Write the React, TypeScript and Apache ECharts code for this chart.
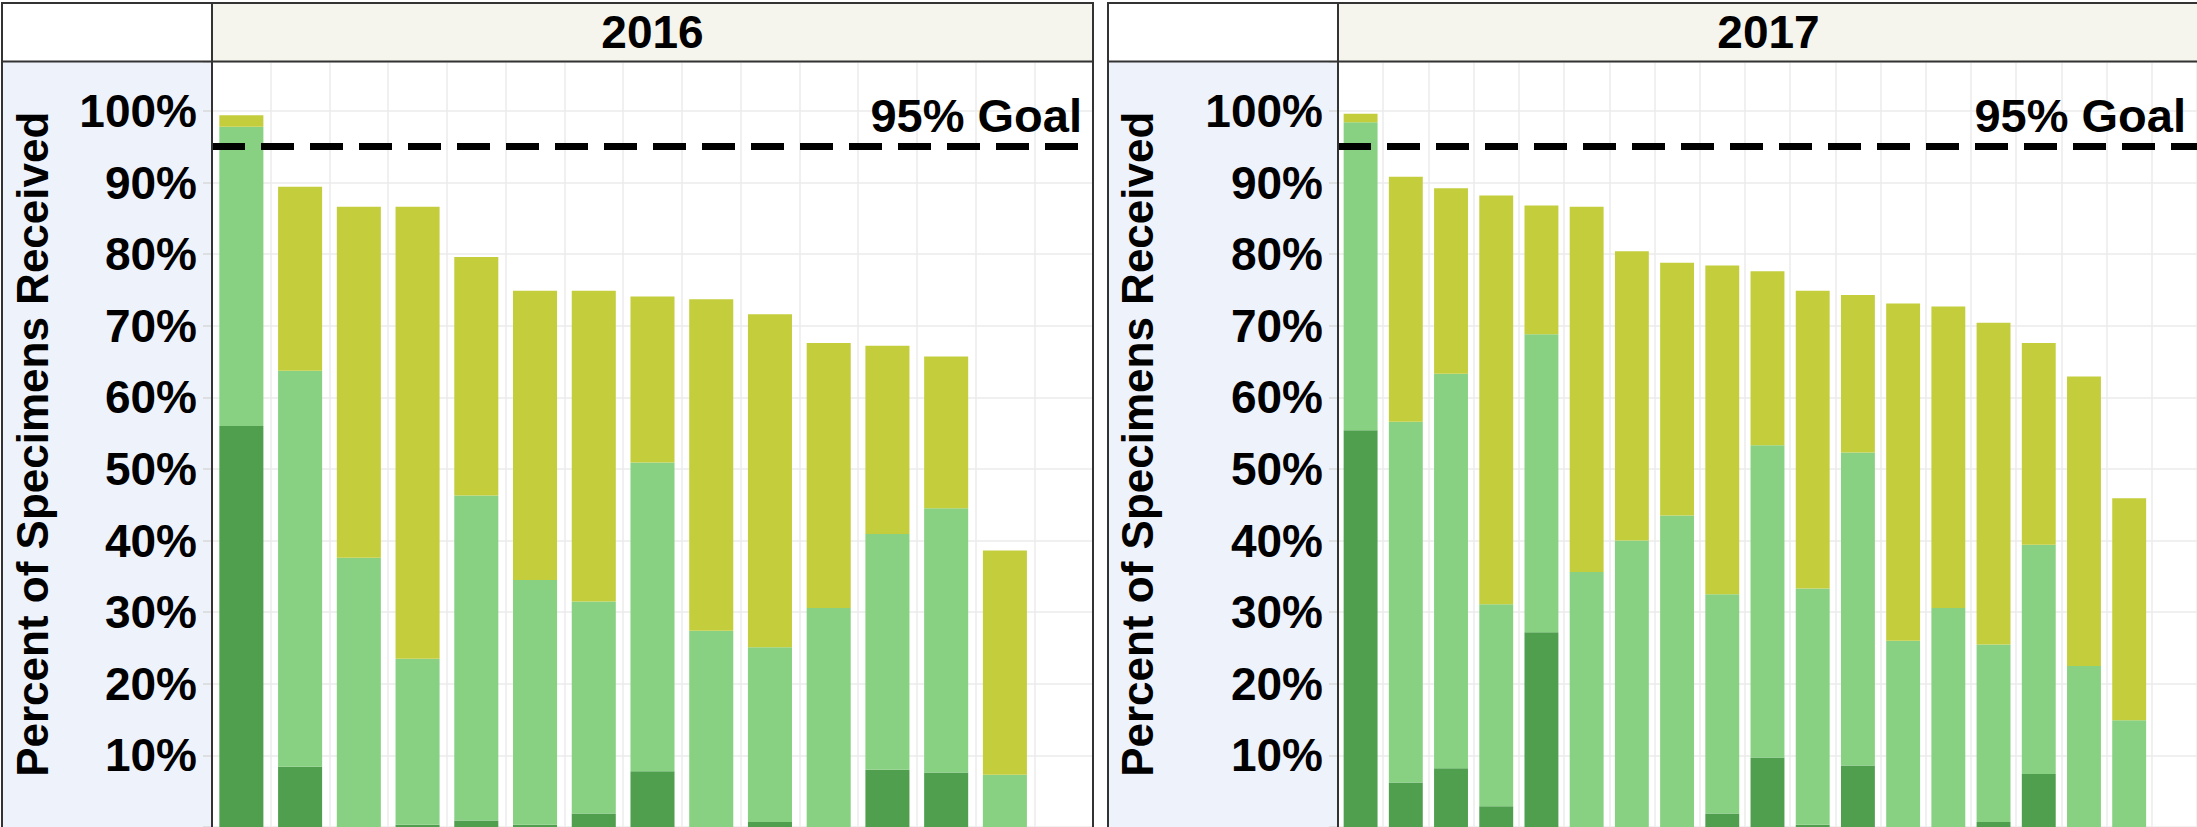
import React, { useEffect, useRef } from "react";
import * as echarts from "echarts";

const W = 2197;
const H = 827;
const FONT = "'Liberation Sans', Arial, Helvetica, sans-serif";

// ---- data (percent of specimens received, stacked segments) ----
const panels2016 = "2016";
const panels2017 = "2017";

const cats2016 = ["Site 1", "Site 2", "Site 3", "Site 4", "Site 5", "Site 6", "Site 7", "Site 8", "Site 9", "Site 10", "Site 11", "Site 12", "Site 13", "Site 14", "Site 15"];
const early2016 = [56.0, 8.4, 0, 0.3, 0.9, 0.3, 1.9, 7.8, 0, 0.7, 0, 8.0, 7.6, 0, null];
const onTime2016 = [41.8, 55.3, 37.6, 23.2, 45.4, 34.2, 29.6, 43.1, 27.4, 24.4, 30.6, 32.9, 36.9, 7.3, null];
const late2016 = [1.6, 25.7, 49.0, 63.1, 33.3, 40.4, 43.4, 23.2, 46.3, 46.5, 37.0, 26.3, 21.2, 31.3, null];

const cats2017 = ["Site 1", "Site 2", "Site 3", "Site 4", "Site 5", "Site 6", "Site 7", "Site 8", "Site 9", "Site 10", "Site 11", "Site 12", "Site 13", "Site 14", "Site 15", "Site 16", "Site 17", "Site 18", "Site 19"];
const early2017 = [55.4, 6.2, 8.2, 2.9, 27.2, 0, 0, 0, 1.9, 9.7, 0.3, 8.6, 0, 0, 0.7, 7.4, 0, 0, null];
const onTime2017 = [43.0, 50.4, 55.1, 28.2, 41.6, 35.6, 40.0, 43.5, 30.6, 43.6, 33.0, 43.7, 26.0, 30.6, 24.8, 32.0, 22.5, 14.9, null];
const late2017 = [1.2, 34.2, 25.9, 57.1, 18.0, 51.0, 40.4, 35.3, 45.9, 24.3, 41.6, 22.0, 47.1, 42.1, 44.9, 28.2, 40.4, 31.0, null];

const goalValue = 95;
const goalLabel = "95% Goal";
const yTitle = "Percent of Specimens Received";
const yMax = 106.9;

const COLORS = { early: "#4f9f4f", onTime: "#88d182", late: "#c4ce3c" };

// ---- layout ----
const TOP = 3;
const STRIP_BOTTOM = 61.5;
const PANELS = [
  { title: panels2016, left: 2, axis: 212, right: 1093, nameGap: 158 },
  { title: panels2017, left: 1108, axis: 1338, right: 2199, nameGap: 179 },
];

export default function App() {
  const ref = useRef<HTMLDivElement>(null);

  useEffect(() => {
    document.body.style.margin = "0";
    if (!ref.current) return;
    const chart = echarts.init(ref.current, undefined, { renderer: "svg" });

    const datasets = [
      { cats: cats2016, early: early2016, onTime: onTime2016, late: late2016 },
      { cats: cats2017, early: early2017, onTime: onTime2017, late: late2017 },
    ];

    const grid = PANELS.map((p) => ({
      left: p.axis,
      top: STRIP_BOTTOM,
      width: p.right - p.axis,
      height: 767,
      containLabel: false,
    }));

    const xAxis = datasets.map((d, i) => ({
      type: "category",
      gridIndex: i,
      data: d.cats,
      boundaryGap: true,
      axisLine: { show: false },
      axisTick: { show: false },
      axisLabel: { show: false },
      splitLine: { show: true, interval: 0, lineStyle: { color: "#ebebeb", width: 1.5 } },
    }));

    const yAxis = PANELS.map((p, i) => ({
      type: "value",
      gridIndex: i,
      min: 0,
      max: yMax,
      interval: 10,
      axisLine: { show: false },
      axisTick: { show: true, length: 9, lineStyle: { color: "#d9d9d9", width: 1.5 } },
      axisLabel: {
        formatter: (v: number) => (v > 0 && Math.abs(v % 10) < 1e-6 ? `${Math.round(v)}%` : ""),
        fontSize: 46,
        fontWeight: "bold",
        color: "#000",
        margin: 15,
        fontFamily: FONT,
      },
      splitLine: { show: true, lineStyle: { color: "#ebebeb", width: 1.5 } },
      name: yTitle,
      nameLocation: "middle",
      nameRotate: 90,
      nameGap: p.nameGap,
      nameTextStyle: { fontSize: 44, fontWeight: "bold", color: "#000", fontFamily: FONT },
    }));

    const series: any[] = [];
    datasets.forEach((d, i) => {
      const common = { type: "bar", xAxisIndex: i, yAxisIndex: i, stack: "s" + i, barWidth: "75%" };
      series.push({ ...common, name: "Early", data: d.early, itemStyle: { color: COLORS.early } });
      series.push({ ...common, name: "On time", data: d.onTime, itemStyle: { color: COLORS.onTime } });
      series.push({
        ...common,
        name: "Late",
        data: d.late,
        itemStyle: { color: COLORS.late },
        markLine: {
          silent: true,
          symbol: ["none", "none"],
          data: [{ yAxis: goalValue }],
          lineStyle: { color: "#000", width: 7, type: [33, 16] },
          label: {
            show: true,
            position: "insideEndTop",
            formatter: goalLabel,
            fontSize: 47,
            fontWeight: "bold",
            color: "#000",
            fontFamily: FONT,
            distance: [11, 8],
          },
        },
      });
    });

    const graphic: any[] = [];
    PANELS.forEach((p) => {
      graphic.push({
        type: "rect",
        z: -100,
        shape: { x: p.left, y: STRIP_BOTTOM, width: p.axis - p.left, height: 900 },
        style: { fill: "#eef2fa" },
      });
      graphic.push({
        type: "rect",
        z: -100,
        shape: { x: p.axis, y: TOP, width: p.right - p.axis, height: STRIP_BOTTOM - TOP },
        style: { fill: "#f5f5ee" },
      });
      graphic.push({
        type: "rect",
        z: 100,
        shape: { x: p.left, y: TOP, width: p.right - p.left, height: 900 },
        style: { fill: "none", stroke: "#333", lineWidth: 2 },
      });
      graphic.push({
        type: "line",
        z: 100,
        shape: { x1: p.left, y1: STRIP_BOTTOM, x2: p.right, y2: STRIP_BOTTOM },
        style: { stroke: "#333", lineWidth: 2 },
      });
      graphic.push({
        type: "line",
        z: 100,
        shape: { x1: p.axis, y1: TOP, x2: p.axis, y2: 900 },
        style: { stroke: "#333", lineWidth: 2 },
      });
      graphic.push({
        type: "text",
        z: 100,
        x: (p.axis + p.right) / 2,
        y: (TOP + STRIP_BOTTOM) / 2,
        style: {
          text: p.title,
          fill: "#000",
          font: `bold 46px ${FONT}`,
          align: "center",
          verticalAlign: "middle",
        },
      });
    });

    chart.setOption({
      animation: false,
      backgroundColor: "#fff",
      grid,
      xAxis,
      yAxis,
      series,
      graphic,
    });

    return () => chart.dispose();
  }, []);

  return <div ref={ref} style={{ width: W, height: H }} />;
}
